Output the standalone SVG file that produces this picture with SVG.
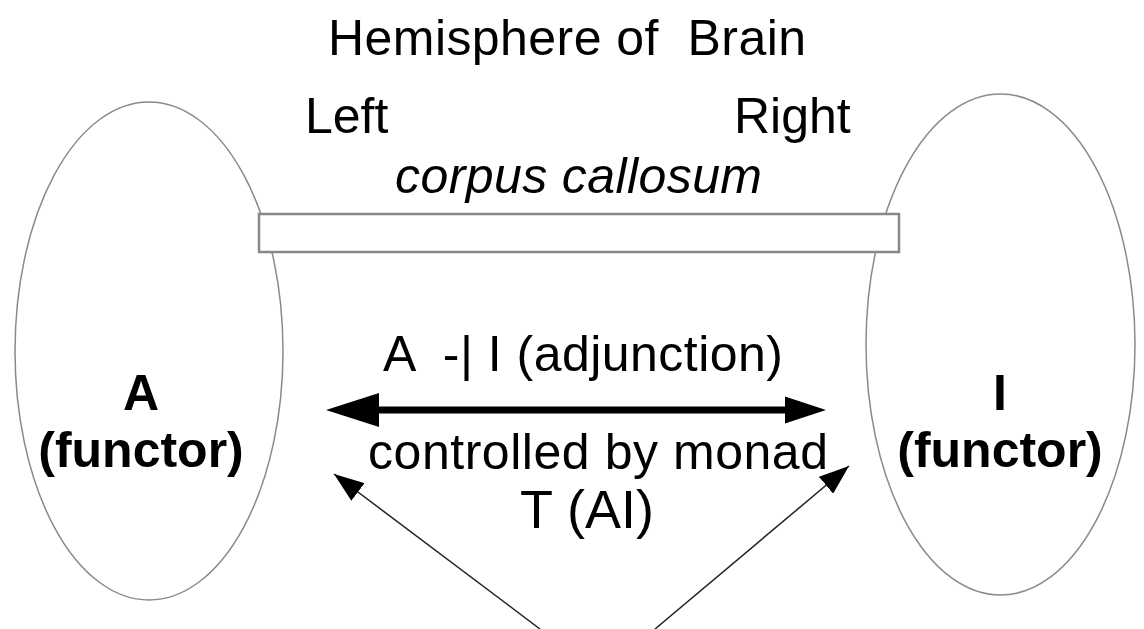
<svg xmlns="http://www.w3.org/2000/svg" width="1144" height="629" viewBox="0 0 1144 629">
<style>
.t{font-family:"Liberation Sans",Arial,sans-serif;font-size:50px;fill:#000;white-space:pre}
.b{font-weight:bold;text-anchor:middle}
.shape{fill:#fff;stroke:#8a8a8a;stroke-width:1.5}
.thin{stroke:#222;stroke-width:1.5;fill:none}
</style>
<defs>
<marker id="ah" viewBox="0 0 10 10" refX="10" refY="5" markerWidth="30" markerHeight="22" markerUnits="userSpaceOnUse" orient="auto" preserveAspectRatio="none">
<path d="M0,0 L10,5 L0,10 Z" fill="#000"/>
</marker>
</defs>
<rect width="1144" height="629" fill="#fff"/>
<g id="left-hemisphere">
<ellipse class="shape" cx="149" cy="351" rx="134" ry="249"/>
<text class="t b" x="141" y="410">A</text>
<text class="t b" x="141" y="467">(functor)</text>
</g>
<g id="right-hemisphere">
<ellipse class="shape" cx="1000.5" cy="344.5" rx="134.5" ry="250.5"/>
<text class="t b" x="1000" y="410">I</text>
<text class="t b" x="1000" y="467">(functor)</text>
</g>
<g id="corpus-callosum">
<rect x="259" y="214" width="640" height="38" fill="#fff" stroke="#888" stroke-width="2.5"/>
</g>
<g id="labels">
<text class="t" x="328" y="55" xml:space="preserve" textLength="478" lengthAdjust="spacing">Hemisphere of  Brain</text>
<text class="t" x="305" y="133">Left</text>
<text class="t" x="734" y="133">Right</text>
<text class="t" x="395" y="193" font-style="italic" textLength="367" lengthAdjust="spacing">corpus callosum</text>
<text class="t" x="383" y="371" xml:space="preserve" textLength="400" lengthAdjust="spacing">A  -| I (adjunction)</text>
<text class="t" x="368" y="469" textLength="460" lengthAdjust="spacing">controlled by monad</text>
<text class="t" x="520" y="528" style="font-size:54px">T (AI)</text>
</g>
<g id="connectors">
<line x1="372" y1="410" x2="790" y2="410" stroke="#000" stroke-width="7"/>
<polygon points="326,410 379,393 379,427" fill="#000"/>
<polygon points="826,410 785,396.5 785,423.5" fill="#000"/>
<line class="thin" x1="540" y1="629" x2="334" y2="474" marker-end="url(#ah)"/>
<line class="thin" x1="655" y1="629" x2="849" y2="466" marker-end="url(#ah)"/>
</g>
</svg>
